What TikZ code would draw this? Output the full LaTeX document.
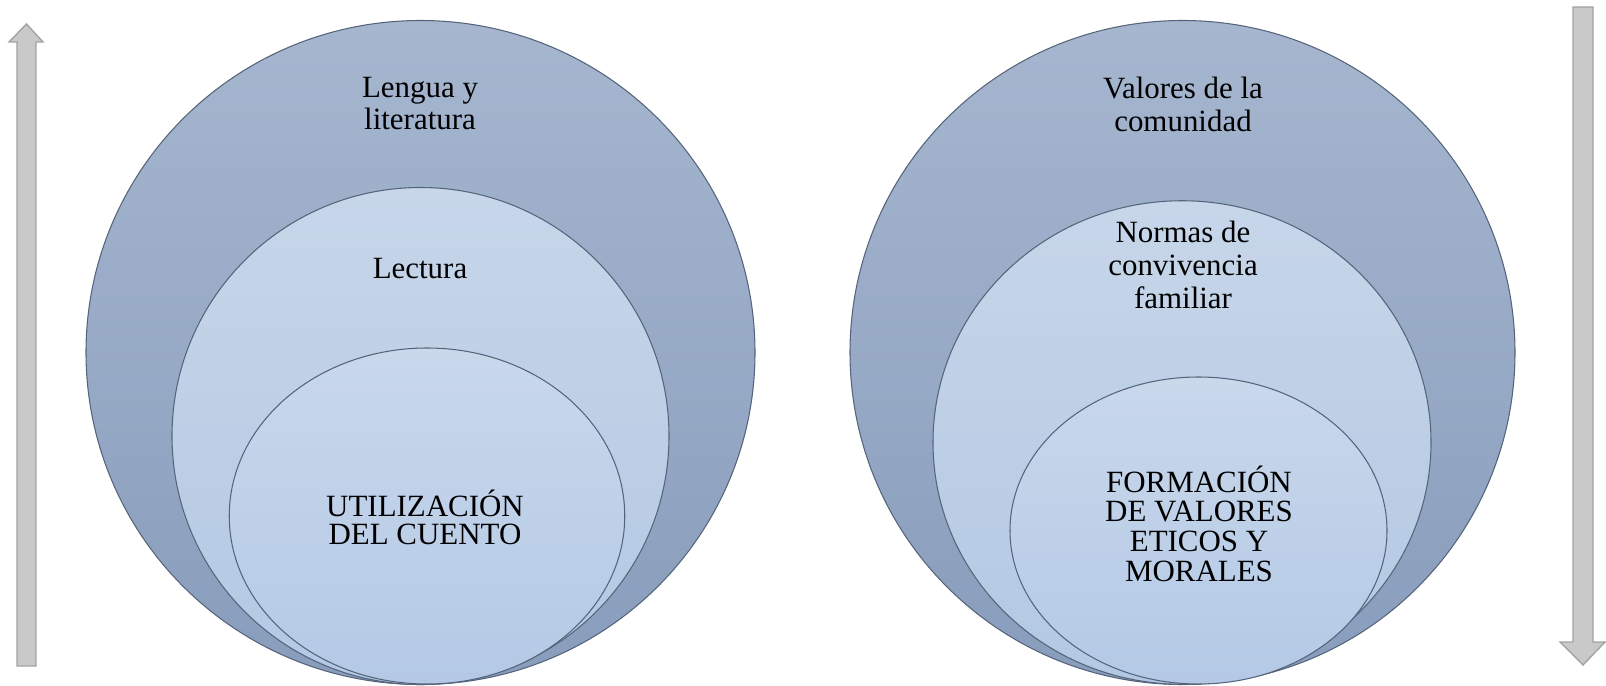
\documentclass[tikz,border=0pt]{standalone}
\usepackage{fontspec}
\setmainfont{Liberation Serif}
\usetikzlibrary{shapes.geometric}
\definecolor{outtop}{HTML}{A6B6CF}
\definecolor{outbot}{HTML}{889DBC}
\definecolor{midtop}{HTML}{C7D6E9}
\definecolor{midbot}{HTML}{B3C8E3}
\definecolor{intop}{HTML}{C9D8EB}
\definecolor{inbot}{HTML}{B4C9E6}
\definecolor{ringline}{HTML}{55647A}
\definecolor{arrfill}{HTML}{C9C9C9}
\definecolor{arrline}{HTML}{A3A3A3}
\tikzset{
    ring/.style={ellipse, draw=ringline, line width=0.6pt, inner sep=0pt},
    txt/.style={align=center, inner sep=0pt, anchor=base,
        font=\fontsize{17.6}{18.4}\selectfont},
    bigarrow/.style={fill=arrfill, draw=arrline, line width=0.8pt}
}

\begin{document}
\begin{tikzpicture}
	\useasboundingbox (0,0) rectangle (32.12,13.70);

	% left side
	\node (outerL) [ring, minimum width=13.38cm, minimum height=13.28cm,
		top color=outtop, bottom color=outbot] at (8.41cm, 6.65cm) {};
	\node (middleL) [ring, minimum width=9.94cm, minimum height=9.94cm,
		top color=midtop, bottom color=midbot] at (8.41cm, 4.98cm) {};
	\node (innerL) [ring, minimum width=7.91cm, minimum height=6.72cm,
		top color=intop, bottom color=inbot] at (8.54cm, 3.38cm) {};

	% base anchor sits on the last line
	\node (lengua) [txt] at (8.40cm, 11.10cm) {Lengua y\\literatura};
	\node (lectura) [txt] at (8.40cm, 8.14cm) {Lectura};
	\node (cuento) [txt, font=\fontsize{17.6}{15.6}\selectfont]
		at (8.50cm, 2.82cm) {UTILIZACIÓN\\DEL CUENTO};

	% right side
	\node (outerR) [ring, minimum width=13.30cm, minimum height=13.28cm,
		top color=outtop, bottom color=outbot] at (23.65cm, 6.65cm) {};
	\node (middleR) [ring, minimum width=9.96cm, minimum height=9.67cm,
		top color=midtop, bottom color=midbot] at (23.64cm, 4.85cm) {};
	\node (innerR) [ring, minimum width=7.54cm, minimum height=6.14cm,
		top color=intop, bottom color=inbot] at (23.97cm, 3.09cm) {};

	\node (valores) [txt, font=\fontsize{17.6}{18.8}\selectfont]
		at (23.66cm, 11.06cm) {Valores de la\\comunidad};
	\node (normas) [txt, font=\fontsize{17.6}{18.6}\selectfont]
		at (23.66cm, 7.54cm) {Normas de\\convivencia\\familiar};
	\node (formacion) [txt, font=\fontsize{17.6}{16.8}\selectfont]
		at (23.98cm, 2.08cm) {FORMACIÓN\\DE VALORES\\ETICOS Y\\MORALES};

	% side arrows
	\draw [bigarrow] (0.34,0.38) -- (0.34,12.86) -- (0.18,12.86) -- (0.53,13.22)
		-- (0.86,12.86) -- (0.72,12.86) -- (0.72,0.38) -- cycle;
	\draw [bigarrow] (31.46,13.56) -- (31.46,0.86) -- (31.20,0.86) -- (31.66,0.40)
		-- (32.10,0.86) -- (31.86,0.86) -- (31.86,13.56) -- cycle;
\end{tikzpicture}
\end{document}
